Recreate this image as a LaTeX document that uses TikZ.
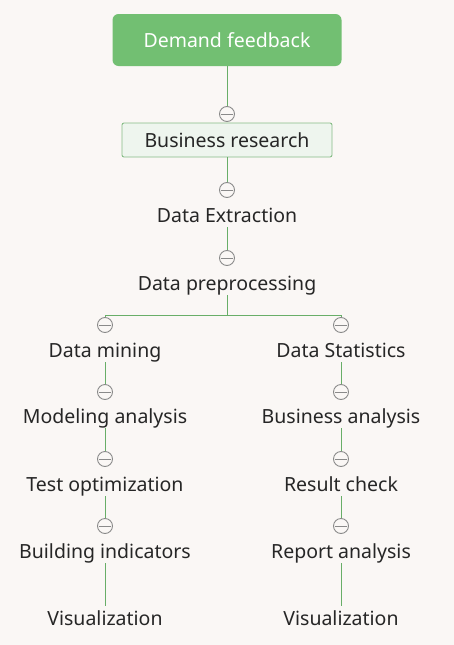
\documentclass[tikz,border=0pt]{standalone}
\usepackage{fontspec}
\setmainfont{Noto Sans}
\usepackage{xcolor}
\usetikzlibrary{calc}
\definecolor{paper}{HTML}{FAF7F5}
\definecolor{rootgreen}{HTML}{72BF72}
\definecolor{palegreen}{HTML}{EEF5EE}
\definecolor{edgegreen}{HTML}{86BC86}
\definecolor{linkgreen}{HTML}{68AE68}
\definecolor{knobgray}{HTML}{8A8A8A}

\tikzset{
  topic/.style={inner sep=3pt, text height=17pt, text depth=1.5pt, font=\fontsize{19.5}{22}\selectfont, text=black!85},
  rootbox/.style={topic, fill=rootgreen, rounded corners=6pt, minimum width=229pt, minimum height=52pt, text=white},
  subbox/.style={topic, fill=palegreen, draw=edgegreen, line width=0.9pt, rounded corners=2pt, minimum width=210pt, minimum height=34pt},
  knob/.style={circle, draw=knobgray, fill=paper, line width=0.9pt, inner sep=0pt, minimum size=15pt,
    path picture={\draw[knobgray, line width=0.9pt] ([xshift=1.5pt]path picture bounding box.west) -- ([xshift=-1.5pt]path picture bounding box.east);}},
  link/.style={draw=linkgreen, line width=1pt}
}

\begin{document}
\begin{tikzpicture}[x=1pt, y=-1pt]
      \fill[paper] (0,0) rectangle (454,645);
      \useasboundingbox (0,0) rectangle (454,645);

      \node[rootbox] (fb) at (227,40) {Demand feedback};
      \node[knob] (k1) at (227,114) {};
      \node[subbox] (br) at (227,140) {Business research};
      \node[knob] (k2) at (227,190) {};
      \node[topic] (ext) at (227,215) {Data Extraction};
      \node[knob] (k3) at (227,258) {};
      \node[topic] (pre) at (227,283) {Data preprocessing};
      \coordinate (split) at (227,315);

      % left branch
      \node[knob] (ka1) at (105,325) {};
      \node[topic] (a1) at (105,350) {Data mining};
      \node[knob] (ka2) at (105,392) {};
      \node[topic] (a2) at (105,416) {Modeling analysis};
      \node[knob] (ka3) at (105,459) {};
      \node[topic] (a3) at (105,484) {Test optimization};
      \node[knob] (ka4) at (105,526) {};
      \node[topic] (a4) at (105,551) {Building indicators};
      \node[topic] (a5) at (105,618) {Visualization};

      % right branch
      \node[knob] (kb1) at (341,325) {};
      \node[topic] (b1) at (341,350) {Data Statistics};
      \node[knob] (kb2) at (341,392) {};
      \node[topic] (b2) at (341,416) {Business analysis};
      \node[knob] (kb3) at (341,459) {};
      \node[topic] (b3) at (341,484) {Result check};
      \node[knob] (kb4) at (341,526) {};
      \node[topic] (b4) at (341,551) {Report analysis};
      \node[topic] (b5) at (341,618) {Visualization};

      \draw[link] (fb) -- (k1);
      \draw[link] (br) -- (k2);
      \draw[link] (ext) -- (k3);
      \draw[link] (pre) -- (split);
      \draw[link] (split) -| (ka1);
      \draw[link] (split) -| (kb1);
      \draw[link] (a1) -- (ka2);
      \draw[link] (a2) -- (ka3);
      \draw[link] (a3) -- (ka4);
      \draw[link] (a4) -- (a5);
      \draw[link] (b1) -- (kb2);
      \draw[link] (b2) -- (kb3);
      \draw[link] (b3) -- (kb4);
      \draw[link] (b4) -- (b5);
\end{tikzpicture}
\end{document}
